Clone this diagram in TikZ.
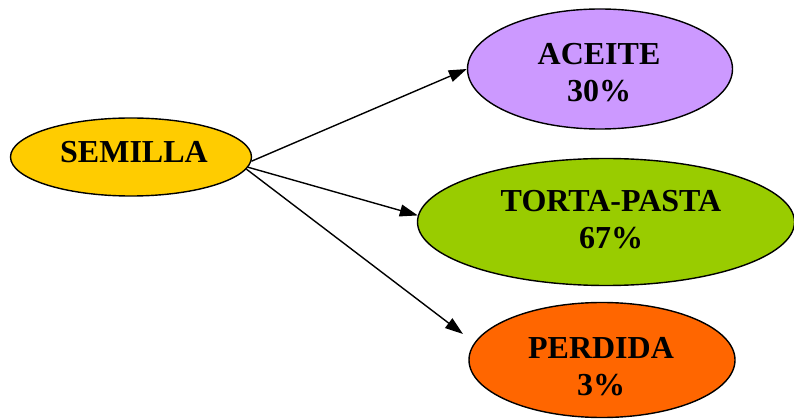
\documentclass[tikz,border=0pt]{standalone}
\usepackage{fontspec}
\setmainfont{Liberation Serif}
\usetikzlibrary{shapes.geometric,arrows.meta}
\definecolor{cSem}{HTML}{FFCC00}
\definecolor{cAce}{HTML}{CC99FF}
\definecolor{cTor}{HTML}{99CC00}
\definecolor{cPer}{HTML}{FF6600}
\tikzset{
  oval/.style={ellipse, draw=black, line width=1.4pt, inner sep=0pt},
  lbl/.style={align=center, inner sep=0pt, font=\fontsize{32}{36.5}\selectfont\bfseries},
  conn/.style={line width=1.4pt, -{Triangle[length=18pt,width=12pt]}}
}
\begin{document}
\begin{tikzpicture}[x=1pt,y=-1pt]
\useasboundingbox (0,0) rectangle (794,419);
\node[oval, fill=cSem, minimum width=241pt, minimum height=78pt] (semilla) at (131,157) {};
\node[oval, fill=cAce, minimum width=265pt, minimum height=120pt] (aceite) at (600,69) {};
\node[oval, fill=cTor, minimum width=377pt, minimum height=127pt] (torta) at (606,222) {};
\node[oval, fill=cPer, minimum width=266pt, minimum height=115pt] (perdida) at (602,360) {};
\node[lbl] (semillaT) at (134,152) {SEMILLA};
\node[lbl] (aceiteT) at (599,72.5) {ACEITE\\30\%};
\node[lbl] (tortaT) at (611,219.5) {TORTA-PASTA\\67\%};
\node[lbl] (perdidaT) at (601,366.5) {PERDIDA\\3\%};
\coordinate (pend) at (463,334);
\draw[conn] (semilla.-2) -- (aceite.west);
\draw[conn] (semilla.-5) -- (torta.178.5);
\draw[conn] (semilla.-6) -- (pend);
\end{tikzpicture}
\end{document}
